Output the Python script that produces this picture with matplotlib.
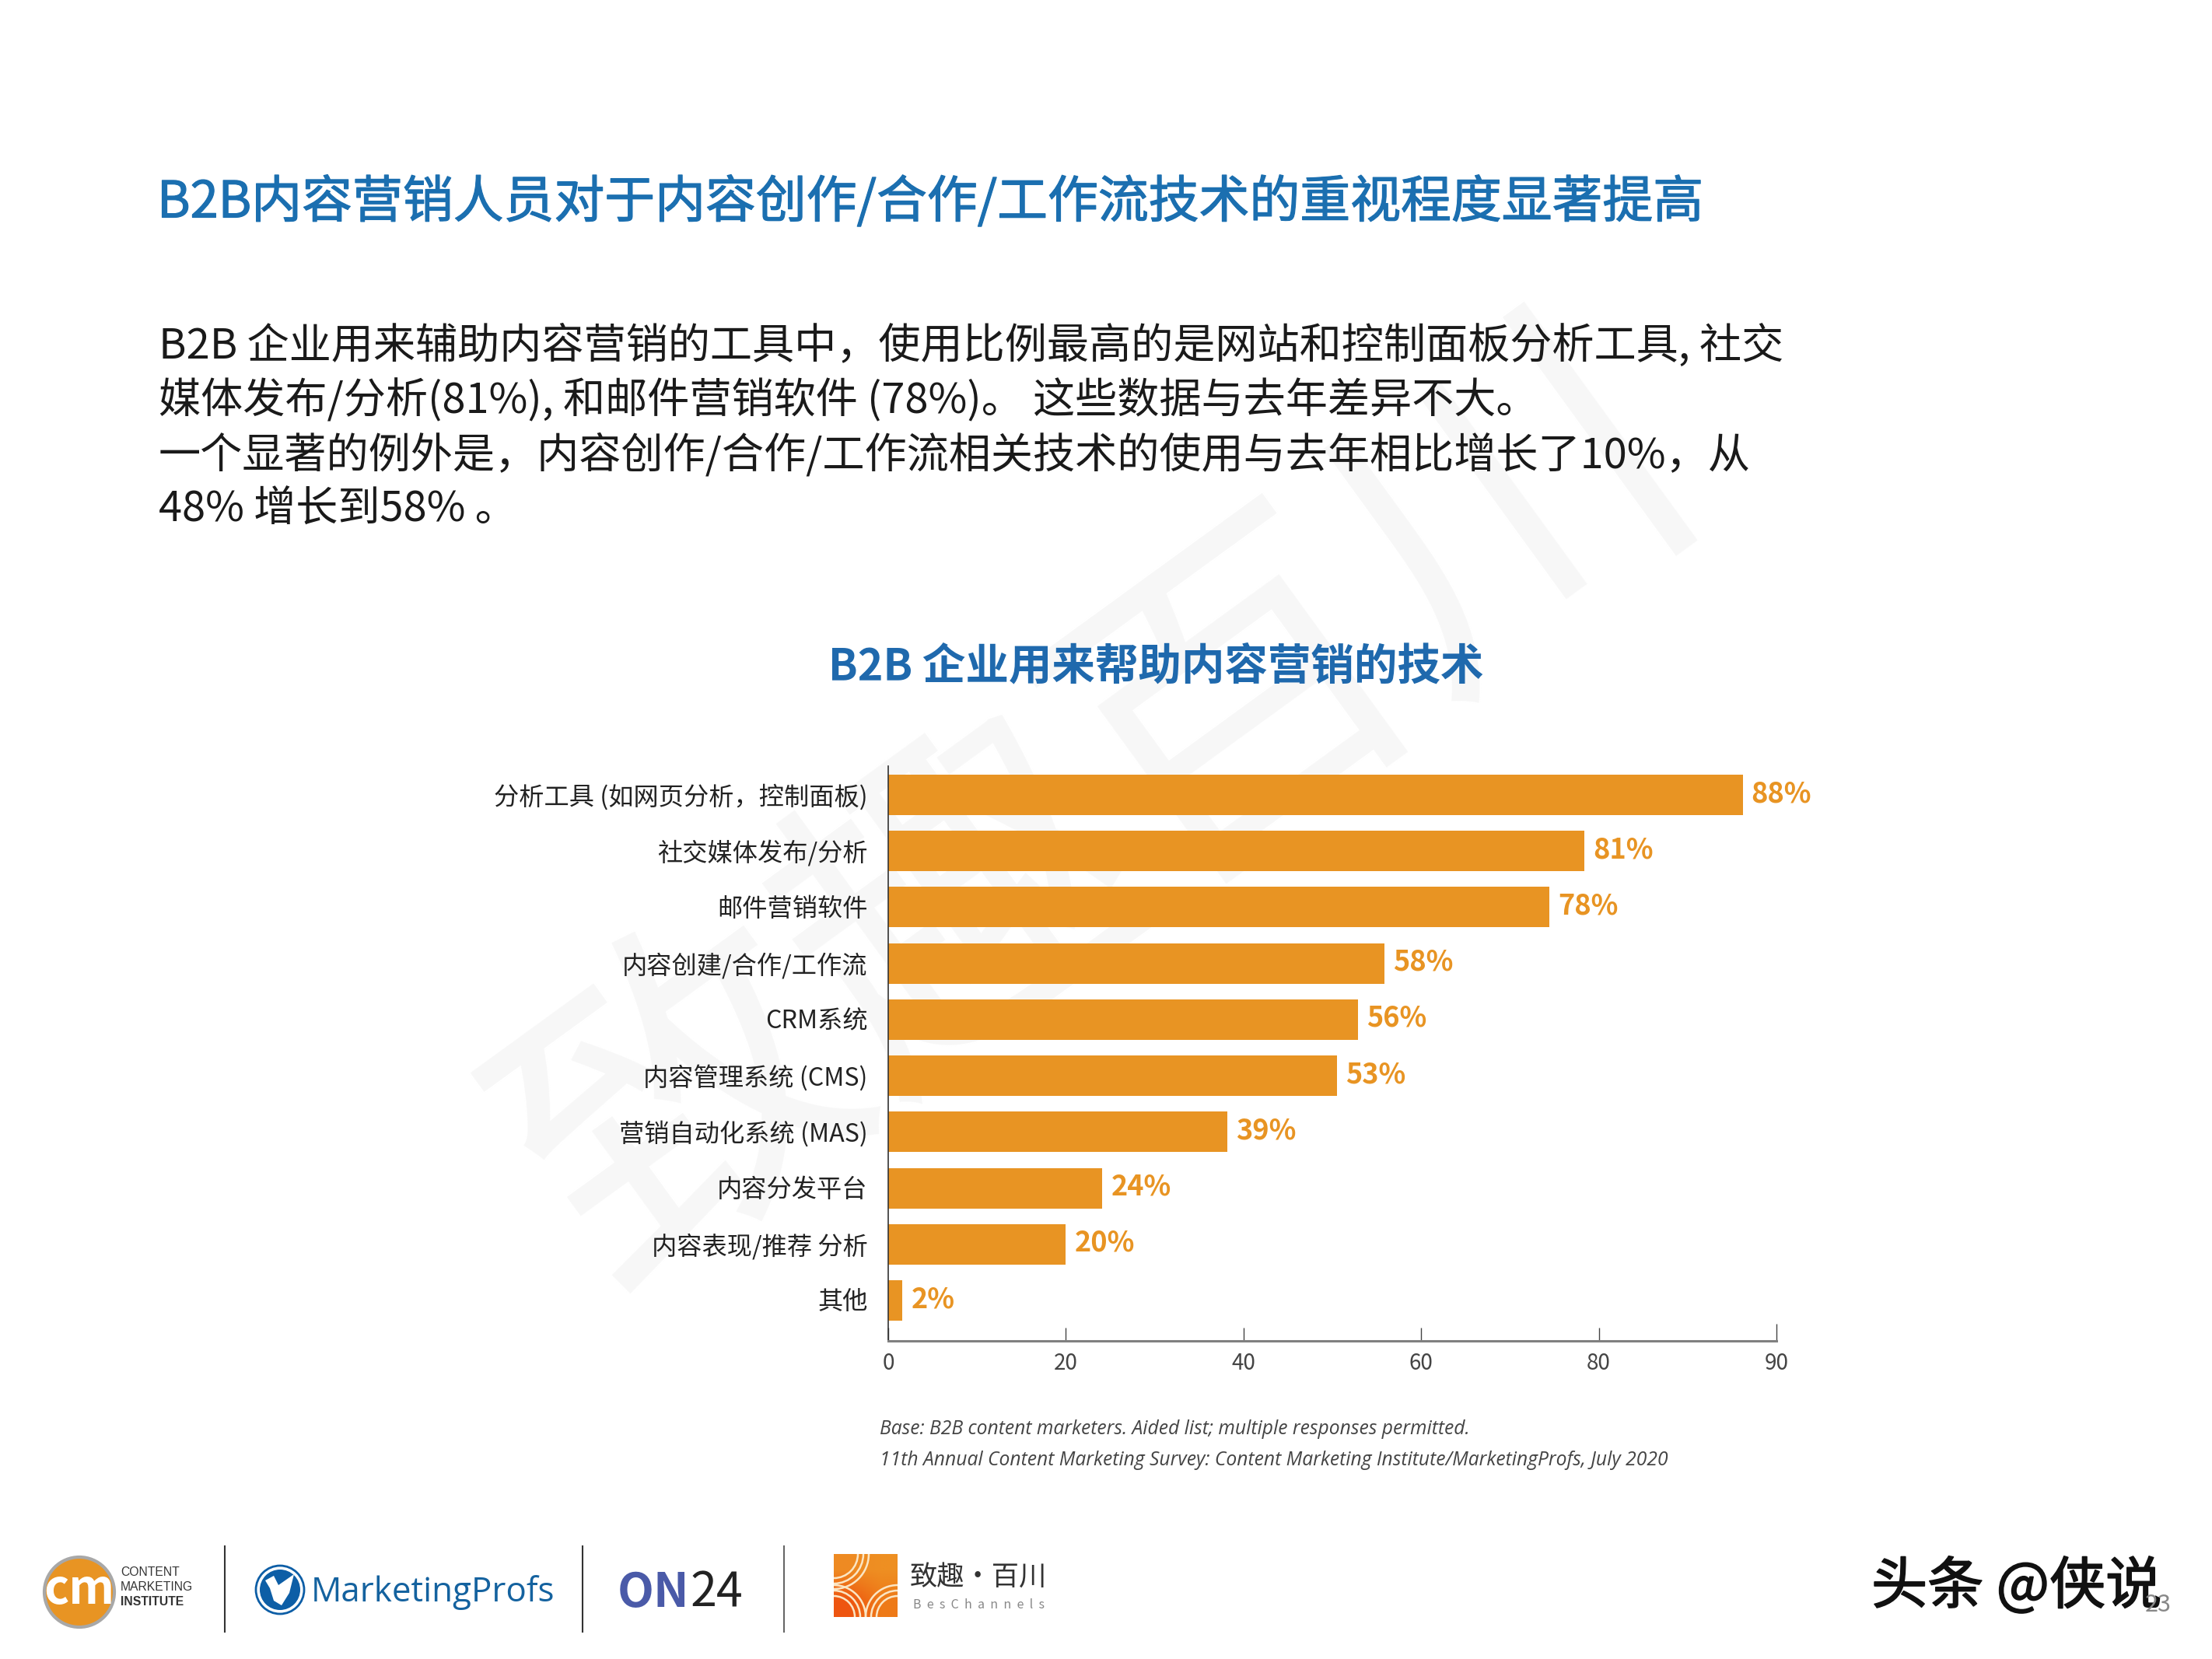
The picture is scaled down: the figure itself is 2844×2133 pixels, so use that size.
import matplotlib
matplotlib.use("Agg")
import matplotlib.pyplot as plt
import matplotlib.patheffects as pe
import numpy as np
from matplotlib.colors import to_rgb
from matplotlib.patches import Circle, Polygon, Rectangle
from matplotlib.transforms import ScaledTranslation

plt.rcParams["font.family"] = ["Noto Sans CJK SC", "DejaVu Sans"]

W, H = 2844, 2133

categories = [
    "分析工具 (如网页分析，控制面板)",
    "社交媒体发布/分析",
    "邮件营销软件",
    "内容创建/合作/工作流",
    "CRM系统",
    "内容管理系统 (CMS)",
    "营销自动化系统 (MAS)",
    "内容分发平台",
    "内容表现/推荐 分析",
    "其他",
]
# printed percentages
percent_labels = [88, 81, 78, 58, 56, 53, 39, 24, 20, 2]
# bar lengths as drawn against the evenly spaced ticks
bar_lengths = [96.2, 78.4, 74.4, 55.9, 52.9, 50.5, 38.2, 24.1, 20.0, 1.6]
tick_positions = [0, 20, 40, 60, 80, 100]
tick_labels = ["0", "20", "40", "60", "80", "90"]

title = "B2B内容营销人员对于内容创作/合作/工作流技术的重视程度显著提高"
body_lines = [
    "B2B 企业用来辅助内容营销的工具中，使用比例最高的是网站和控制面板分析工具, 社交",
    "媒体发布/分析(81%), 和邮件营销软件 (78%)。 这些数据与去年差异不大。",
    "一个显著的例外是，内容创作/合作/工作流相关技术的使用与去年相比增长了10%，从",
    "48% 增长到58% 。",
]
chart_title = "B2B 企业用来帮助内容营销的技术"
notes = [
    "Base: B2B content marketers. Aided list; multiple responses permitted.",
    "11th Annual Content Marketing Survey: Content Marketing Institute/MarketingProfs, July 2020",
]

ORANGE = "#e89423"
BLUE = "#1b6fb0"

fig = plt.figure(figsize=(W / 100, H / 100), dpi=100, facecolor="white")

## page layer in pixel coordinates, sits under the chart
bg = fig.add_axes([0, 0, 1, 1], zorder=0)
bg.axis("off")

## watermark
bg.text(1418, 1042, "致趣百川", fontsize=315, color="#f7f7f7", rotation=36,
        ha="center", va="center")

title_text = bg.text(202, 261, title, fontsize=46.7, color=BLUE, va="center")
title_text.set_path_effects([pe.withStroke(linewidth=0.9, foreground=BLUE)])
for i, line in enumerate(body_lines):
    bg.text(204, 445 + i * 70, line, fontsize=39, color="#1a1a1a", va="center")
bg.text(1065, 857, chart_title, fontsize=40, color="#1f69ad", va="center", fontweight="bold")

for i, note in enumerate(notes):
    bg.text(1131, 1838 + i * 39, note, fontsize=17.7, style="italic", family="Open Sans",
            color="#444444", va="center")

## footer logos
bg.add_patch(Circle((102, 2047), 45, fc=ORANGE, ec="#a8a8a8", lw=3))
bg.text(102, 2044, "cm", fontsize=44, fontweight="bold", color="white", ha="center", va="center")
for i, (t, w) in enumerate([("CONTENT", "normal"), ("MARKETING", "normal"), ("INSTITUTE", "bold")]):
    bg.text(155, 2022 + i * 18.5, t, fontsize=11.3, family="Liberation Sans", fontweight=w,
            color="#333333", va="center")
for x, c in [(289, "#333333"), (749, "#333333"), (1008, "#666666")]:
    bg.plot([x, x], [1988, 2098], color=c, lw=1.5)

bg.add_patch(Circle((360, 2044), 31, fc="white", ec="#0d5ea6", lw=2))
bg.add_patch(Circle((360, 2044), 26, fc="#0d5ea6", ec="none"))
bg.add_patch(Polygon([(341, 2032), (352, 2026), (358, 2038), (378, 2024), (372, 2048),
                      (362, 2064), (352, 2058), (347, 2042)], fc="white", ec="none"))
bg.text(400, 2048, "MarketingProfs", fontsize=31.6, family="Open Sans", color="#14629f", va="center")
bg.text(794, 2048, "ON", fontsize=44, fontweight="bold", color="#4a5aa8", va="center")
bg.text(888, 2048, "24", fontsize=44, color="#222222", va="center")

## BesChannels mark, gradient square with four bundles of arcs
corners = [["#ee8a22", "#ee8f22"], ["#ee5510", "#ee7a18"]]
gradient = np.array([[to_rgb(c) for c in row] for row in corners])
bg.imshow(gradient, extent=(1072, 1154, 2079, 1998), interpolation="bilinear", aspect="auto", zorder=1)
square = Rectangle((1072, 1998), 82, 81, transform=bg.transData)
for cx, cy, radii in [(1072, 1998, (31, 38, 45)), (1072, 2079, (27, 34, 41)), (1154, 2079, (27, 34, 41))]:
    for r in radii:
        arc = Circle((cx, cy), r, fill=False, ec="#fbe6c4", lw=1.8, zorder=2)
        bg.add_patch(arc)
        arc.set_clip_path(square)
bg.text(1170, 2029, "致趣·百川", fontsize=25.4, color="#333333", va="center")
bg.text(1174, 2064, "B  e  s  C  h  a  n  n  e  l  s", fontsize=11.5, color="#888888", va="center")

head_text = bg.text(2406, 2041, "头条 @侠说", fontsize=52, color="#111111", va="center")
head_text.set_path_effects([pe.withStroke(linewidth=1.2, foreground="#111111")])
bg.text(2758, 2063, "23", fontsize=22, color="#888888", va="center")

bg.set_xlim(0, W)
bg.set_ylim(H, 0)

## bar chart
ax = fig.add_axes([1142 / W, 1 - 1724 / H, (2284 - 1142) / W, (1724 - 985) / H], zorder=1)
ax.patch.set_alpha(0)
y_pos = list(range(len(categories)))
ax.barh(y_pos, bar_lengths, height=0.72, color=ORANGE)
ax.set_xlim(0, 100)
ax.set_ylim(9.72, -0.512)
ax.set_yticks(y_pos)
ax.set_yticklabels(categories, fontsize=23.2, color="#222222")
ax.tick_params(axis="y", length=0, pad=19)
lift = ScaledTranslation(0, 1 / 100, fig.dpi_scale_trans)
for lab in ax.get_yticklabels():
    lab.set_transform(lab.get_transform() + lift)
ax.set_xticks(tick_positions)
ax.set_xticklabels(tick_labels, fontsize=20, color="#444444")
ax.tick_params(axis="x", direction="in", length=12, width=1, color="#444444", pad=10)
ax.xaxis.get_major_ticks()[-1].tick1line.set_markersize(16)
for s in ["top", "right"]:
    ax.spines[s].set_visible(False)
ax.spines["left"].set_linewidth(1.2)
ax.spines["left"].set_color("#333333")
ax.spines["bottom"].set_linewidth(2.2)
ax.spines["bottom"].set_color("#808080")
for y, length, p in zip(y_pos, bar_lengths, percent_labels):
    ax.annotate(f"{p}%", (length, y), xytext=(8, 1), textcoords="offset points",
                fontsize=26, fontweight="bold", color=ORANGE, va="center")

fig.savefig("out.png", dpi=100)
